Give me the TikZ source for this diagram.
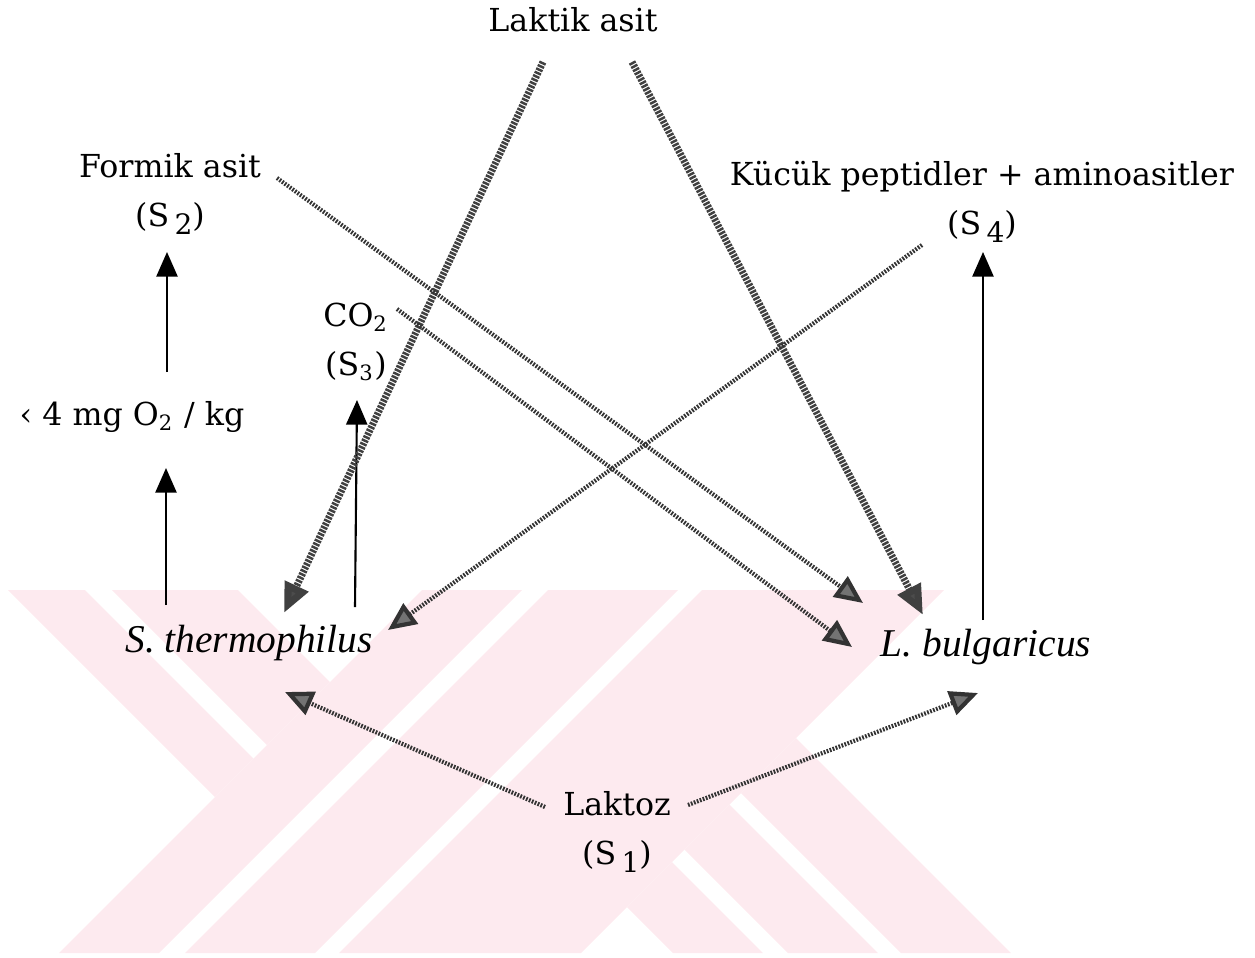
\documentclass[tikz,border=0pt]{standalone}
\usepackage{fontspec}
\setmainfont{DejaVu Serif}
\newfontfamily\specfont{Liberation Serif}
\usetikzlibrary{arrows.meta, positioning, calc}

\definecolor{wmpink}{RGB}{253,234,239}
\newcommand{\lowsub}[1]{\,\raisebox{-0.5ex}{\fontsize{8}{8}\selectfont #1}}

\begin{document}
\begin{tikzpicture}[
  x=0.01cm, y=-0.01cm,
  lbl/.style={align=center, inner sep=0pt, font=\fontsize{9}{14}\selectfont},
  species/.style={inner sep=0pt, font=\specfont\itshape\fontsize{11.2}{13}\selectfont},
  uparrow/.style={-{Triangle[length=7pt, width=6pt]}, line width=0.6pt},
  heavy/.style={-{Triangle[length=8.5pt, width=7pt, fill=black!70]}, draw=black!75, line width=2pt, dash pattern=on 0.7pt off 0.35pt},
  hatched/.style={-{Triangle[length=8pt, width=7pt, fill=black!55]}, draw=black!80, line width=1.2pt, dash pattern=on 0.5pt off 0.4pt},
]
  \useasboundingbox (0,0) rectangle (1255,957);

  % watermark in the background
  \fill[wmpink] (8,590) -- (85,590) -- (253.5,758.5) -- (215,797) -- cycle;
  \fill[wmpink] (112,590) -- (238,590) -- (330,682) -- (267,745) -- cycle;
  \fill[wmpink] (422,590) -- (522,590) -- (159,953) -- (59,953) -- cycle;
  \fill[wmpink] (548,590) -- (678,590) -- (315,953) -- (185,953) -- cycle;
  \fill[wmpink] (702,590) -- (944,590) -- (581,953) -- (339,953) -- cycle;
  \fill[wmpink] (627,907) -- (672,862) -- (763,953) -- (673,953) -- cycle;
  \fill[wmpink] (684.5,849.5) -- (729.5,804.5) -- (878,953) -- (788,953) -- cycle;
  \fill[wmpink] (741,793) -- (796,738) -- (1011,953) -- (901,953) -- cycle;

  % labels
  \node[lbl] (laktik) at (573,20) {Laktik asit};
  \node[lbl] (formik) at (170,194) {Formik asit\\(S\lowsub{2})};
  \node[lbl] (o2) at (132,417) {‹ 4 mg O\textsubscript{2} / kg};
  \node[lbl] (co2) at (356,342) {CO\textsubscript{2}\\(S\textsubscript{3})};
  \node[lbl] (kucuk) at (982,202) {Kücük peptidler + aminoasitler\\(S\lowsub{4})};
  \node[species] (thermo) at (249,643) {S. thermophilus};
  \node[species] (bulg) at (986,647) {L. bulgaricus};
  \node[lbl] (laktoz) at (617,832) {Laktoz\\(S\lowsub{1})};

  % solid arrows
  \draw[uparrow] ($(o2)+(35,-45)$) -- ($(formik)+(-3,58)$);
  \draw[uparrow] ($(thermo)+(-83,-38)$) -- ($(o2)+(34,51)$);
  \draw[uparrow] ($(thermo)+(106,-36)$) -- ($(co2)+(1,58)$);
  \draw[uparrow] ($(bulg)+(-3,-27)$) -- ($(kucuk)+(1,50)$);

  % lactic acid
  \draw[heavy] ($(laktik)+(-30,42)$) -- ($(thermo)+(35,-30)$);
  \draw[heavy] ($(laktik)+(59,42)$) -- ($(bulg)+(-63,-32)$);

  % hatched arrows
  \draw[hatched] ($(formik)+(107,-16)$) -- ($(bulg)+(-123,-44)$);
  \draw[hatched] ($(co2)+(41,-33)$) -- ($(bulg)+(-134,0)$);
  \draw[hatched] ($(kucuk)+(-60,43)$) -- ($(thermo)+(139,-13)$);
  \draw[hatched] ($(laktoz)+(-72,-25)$) -- ($(thermo)+(36,49)$);
  \draw[hatched] ($(laktoz)+(71,-27)$) -- ($(bulg)+(-8,46)$);
\end{tikzpicture}
\end{document}
